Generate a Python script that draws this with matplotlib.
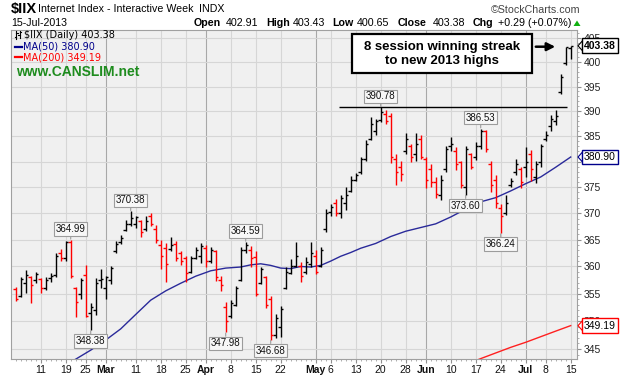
import matplotlib
matplotlib.use('Agg')
import matplotlib.pyplot as plt
import numpy as np
import pandas as pd
from matplotlib.patches import Rectangle, Polygon, FancyArrowPatch
from matplotlib.lines import Line2D
from matplotlib.ticker import FixedLocator, FuncFormatter, NullFormatter

plt.rcParams['font.family'] = ['Liberation Sans', 'DejaVu Sans']

# ---------------- data ----------------
holidays = ['2013-02-18', '2013-03-29', '2013-05-27', '2013-07-04']
dates = [d for d in pd.bdate_range('2013-02-04', '2013-07-15')
         if d.strftime('%Y-%m-%d') not in holidays]

prior_close = 357.0
opens = [355.8, 354.6, 357.0, 358.0, 357.5,
         357.6, 356.0, 357.8, 358.5, 362.5,
         361.6, 364.6, 356.0, 355.0,
         358.5, 351.5, 352.0, 357.5, 356.0,
         357.5, 362.8, 364.5, 366.8, 368.0,
         368.0, 368.5, 367.0, 369.5, 367.0,
         364.0, 363.5, 363.2, 364.2, 362.5,
         361.5, 359.0, 361.5, 362.0,
         363.5, 361.0, 362.8, 357.5, 352.5,
         351.0, 353.0, 357.5, 363.0, 363.0,
         361.8, 357.0, 358.0, 354.0, 347.5,
         349.0, 356.0, 358.8, 360.0, 360.0,
         359.0, 360.5, 362.0, 360.0, 367.0,
         370.2, 372.0, 370.0, 372.0, 374.3,
         376.5, 378.0, 380.5, 384.5, 386.0,
         388.2, 389.5, 389.0, 380.5, 379.0,
         382.0, 383.0, 381.5, 384.5,
         380.5, 378.5, 376.0, 373.5, 378.5,
         383.0, 382.0, 380.0, 375.0, 381.5,
         381.0, 383.0, 386.0, 379.5, 376.5,
         371.0, 370.0, 375.5, 378.0, 378.5,
         379.0, 381.5, 377.0, 380.0,
         384.5, 387.0, 388.0, 393.8, 399.8,
         402.91]
highs = [356.2, 358.0, 359.4, 358.3, 359.0,
         357.8, 358.0, 358.7, 362.6, 363.2,
         364.8, 364.99, 356.2, 357.9,
         360.2, 353.2, 357.9, 359.6, 358.3,
         360.0, 364.8, 365.8, 368.7, 370.38,
         369.4, 368.8, 369.4, 370.0, 367.8,
         364.9, 364.3, 365.6, 364.8, 362.9,
         361.9, 362.0, 363.7, 364.3,
         364.0, 363.7, 363.0, 358.3, 353.5,
         353.8, 356.4, 363.7, 364.59, 363.8,
         362.9, 359.9, 358.3, 354.6, 351.3,
         352.8, 359.9, 361.4, 364.5, 360.8,
         361.7, 364.5, 363.0, 363.6, 370.9,
         371.8, 372.8, 373.5, 375.0, 377.1,
         377.7, 381.0, 384.2, 388.8, 388.4,
         390.78, 390.2, 389.6, 381.5, 380.2,
         385.6, 383.5, 385.6, 385.2,
         381.0, 379.5, 377.0, 377.3, 383.1,
         384.8, 382.8, 380.2, 383.1, 381.7,
         383.8, 386.53, 386.2, 380.2, 377.3,
         371.7, 373.5, 376.8, 380.6, 379.0,
         382.8, 382.2, 380.2, 383.5,
         386.0, 389.2, 390.2, 397.5, 403.2,
         403.43]
lows = [353.7, 354.3, 355.2, 353.2, 357.0,
        355.2, 355.6, 357.1, 358.0, 361.0,
        361.0, 357.8, 350.7, 354.0,
        350.7, 348.38, 351.1, 356.0, 354.0,
        356.8, 362.5, 364.2, 366.6, 367.5,
        367.2, 365.6, 366.6, 367.5, 364.3,
        359.6, 357.1, 362.9, 361.0, 360.3,
        357.1, 358.7, 361.3, 360.7,
        359.9, 360.7, 357.4, 355.5, 347.98,
        350.5, 352.7, 357.4, 362.6, 359.9,
        354.6, 356.8, 352.3, 346.68, 346.9,
        347.2, 355.8, 358.6, 359.9, 357.1,
        358.6, 359.9, 358.6, 359.9, 366.4,
        369.4, 369.4, 369.1, 370.6, 374.0,
        376.2, 377.5, 380.2, 384.2, 385.2,
        387.8, 387.5, 379.7, 375.5, 376.2,
        381.5, 380.0, 380.2, 380.6,
        374.8, 375.0, 373.0, 372.6, 378.0,
        382.0, 378.4, 374.8, 373.60, 378.5,
        380.3, 382.5, 381.9, 374.0, 371.0,
        366.24, 369.6, 375.0, 377.3, 374.8,
        377.0, 376.3, 375.8, 379.0,
        384.0, 386.0, 387.3, 393.5, 399.4,
        400.65]
closes = [354.0, 357.6, 358.5, 356.5, 358.6,
          356.0, 357.5, 358.3, 362.0, 361.5,
          364.5, 358.2, 353.5, 357.5,
          351.0, 352.5, 357.0, 357.6, 358.0,
          359.7, 364.2, 365.3, 368.0, 369.2,
          369.3, 366.5, 368.5, 368.0, 365.0,
          362.0, 360.5, 364.0, 361.5, 361.0,
          358.8, 361.5, 363.0, 363.8,
          361.0, 363.0, 358.0, 356.5, 350.0,
          353.3, 356.0, 363.0, 364.0, 361.5,
          355.0, 359.5, 353.0, 347.5, 350.5,
          352.2, 359.0, 360.0, 362.0, 358.2,
          360.8, 362.5, 359.0, 363.0, 370.0,
          371.2, 370.0, 373.0, 373.5, 376.5,
          377.3, 380.5, 383.5, 387.5, 388.0,
          389.8, 388.0, 381.0, 378.0, 377.5,
          384.5, 381.0, 383.5, 381.0,
          376.5, 376.0, 373.8, 376.5, 382.5,
          383.5, 379.5, 375.5, 382.5, 379.0,
          383.0, 386.0, 382.5, 375.5, 372.0,
          369.5, 372.0, 376.3, 379.5, 376.0,
          380.0, 378.5, 379.5, 383.0,
          385.3, 388.5, 389.0, 397.0, 403.09,
          403.38]

# moving averages (bar number, value)
ma50_bar = [11, 12, 15, 18, 21, 24, 27, 30, 33, 36, 39, 42, 45, 47, 49, 51, 53,
            55, 57, 59, 61, 63, 65, 67, 69, 72, 75, 78, 81, 84, 87, 90, 93, 96,
            99, 102, 105, 108, 111]
ma50_val = [342.7, 343.2, 344.8, 346.6, 348.6, 351.2, 353.8, 355.5, 356.9, 358.2,
            359.2, 359.7, 359.9, 360.3, 360.5, 360.2, 359.7, 359.6, 360.0, 359.9,
            360.2, 361.0, 361.9, 362.6, 363.4, 364.3, 365.6, 366.6, 367.3, 368.0,
            369.3, 370.8, 372.2, 373.0, 374.3, 375.7, 377.0, 378.9, 380.90]
ma200_bar = [91, 93, 96, 99, 102, 105, 108, 111]
ma200_val = [342.6, 343.3, 344.3, 345.3, 346.2, 347.2, 348.2, 349.19]

# callouts: (bar number, 'high' / 'low')
callouts = [(11, 'high'), (23, 'high'), (46, 'high'), (73, 'high'), (93, 'high'),
            (15, 'low'), (42, 'low'), (51, 'low'), (90, 'low'), (97, 'low')]

ytick_vals = [345, 350, 355, 360, 365, 370, 375, 380, 385, 390, 395, 400, 405]
hidden_ytick_labels = [380]   # fully covered by the MA(50) price tag
xtick_dates = ['2013-02-11', '2013-02-19', '2013-02-25', '2013-03-01', '2013-03-11',
               '2013-03-18', '2013-03-25', '2013-04-01', '2013-04-08', '2013-04-15',
               '2013-04-22', '2013-05-01', '2013-05-06', '2013-05-13', '2013-05-20',
               '2013-05-28', '2013-06-03', '2013-06-10', '2013-06-17', '2013-06-24',
               '2013-07-01', '2013-07-08', '2013-07-15']
xtick_labels = ['11', '19', '25', 'Mar', '11', '18', '25', 'Apr', '8', '15', '22',
                'May', '6', '13', '20', '28', 'Jun', '10', '17', '24', 'Jul', '8', '15']
months = ['Mar', 'Apr', 'May', 'Jun', 'Jul']

resistance_level = 390.78

# ---------------- figure ----------------
W, H = 623, 376
fig = plt.figure(figsize=(W / 100, H / 100), dpi=100)
fig.patch.set_facecolor('white')


def fx(x):
    return x / W


def fy(y):
    return 1 - y / H


ax = fig.add_axes([fx(11), fy(358.5), (577 - 11) / W, (358.5 - 29.5) / H])
ax.set_facecolor('#f0f0f0')
ax.set_yscale('log')
ax.set_xlim(-0.94, 112.26)
ax.set_ylim(343.32, 406.78)

n = len(dates)
pos = np.arange(n)
o = np.array(opens); h = np.array(highs); l = np.array(lows); c = np.array(closes)
prev = np.concatenate([[prior_close], c[:-1]])
cols = np.where(c < prev, '#ff0000', '#000000')

# grid
tick_pos = [dates.index(pd.Timestamp(d)) for d in xtick_dates]
for p, lab in zip(tick_pos, xtick_labels):
    ax.axvline(p, color='#a8a8a8' if lab in months else '#d6d6d6', lw=0.8, zorder=0)
for v in ytick_vals:
    ax.axhline(v, color='#d6d6d6', lw=0.8, zorder=0)

# moving averages
ax.plot(ma50_bar, ma50_val, color='#2a2a9a', lw=1.0, zorder=2)
ax.plot(ma200_bar, ma200_val, color='#ff2020', lw=1.0, zorder=2)

# OHLC bars
ax.vlines(pos, l, h, colors=cols, lw=1.0, zorder=3)
ax.hlines(o, pos - 0.45, pos, colors=cols, lw=1.0, zorder=3)
ax.hlines(c, pos, pos + 0.45, colors=cols, lw=1.0, zorder=3)

# resistance line
ax.hlines(resistance_level, 64.7, 110.3, colors='black', lw=1.0, zorder=4)

# callouts
for p, kind in callouts:
    val = highs[p] if kind == 'high' else lows[p]
    off = 11 if kind == 'high' else -11
    ax.annotate(f'{val:.2f}', xy=(p, val), xytext=(0, off), textcoords='offset pixels',
                ha='center', va='center', fontsize=7, color='#111111',
                bbox=dict(boxstyle='square,pad=0.18', fc='#f7f7f7', ec='#9c9c9c', lw=0.8),
                arrowprops=dict(arrowstyle='-', color='#9c9c9c', lw=0.8,
                                shrinkA=0, shrinkB=0.5),
                zorder=6)

# axes / ticks
ax.yaxis.set_major_locator(FixedLocator(ytick_vals))
ax.yaxis.set_minor_locator(FixedLocator(list(range(344, 407))))
ax.yaxis.set_major_formatter(
    FuncFormatter(lambda v, p: '' if round(v) in hidden_ytick_labels else f'{v:.0f}'))
ax.yaxis.set_minor_formatter(NullFormatter())
ax.yaxis.tick_right()
ax.tick_params(axis='y', which='major', length=3, color='#909090', labelsize=7.5,
               pad=2, labelcolor='#222222')
ax.tick_params(axis='y', which='minor', length=1.5, color='#a0a0a0')

ax.set_xticks(tick_pos)
ax.set_xticklabels(xtick_labels)
ax.xaxis.set_minor_locator(FixedLocator(list(pos)))
ax.tick_params(axis='x', which='major', length=3, color='#909090', labelsize=7.5, pad=2,
               labelcolor='#111111')
ax.tick_params(axis='x', which='minor', length=1.5, color='#a0a0a0')
for t in ax.get_xticklabels():
    if t.get_text() in months:
        t.set_fontweight('bold')

for s in ax.spines.values():
    s.set_color('#a0a0a0')
    s.set_linewidth(0.8)

# ---------------- header ----------------
fig.text(fx(11), fy(9.5), '$IIX', fontsize=10.5, fontweight='bold', va='center',
         parse_math=False)
fig.text(fx(38), fy(9.5), 'Internet Index - Interactive Week', fontsize=7.7, va='center')
fig.text(fx(199), fy(9.5), 'INDX', fontsize=7.7, va='center')
fig.text(fx(580), fy(10), '\u00a9StockCharts.com', fontsize=7.7, va='center', ha='right',
         color='#444444')
fig.text(fx(11), fy(23), '15-Jul-2013', fontsize=7.7, va='center')
pieces = [(194, 'Open', True), (226, '402.91', False), (266, 'High', True),
          (293, '403.43', False), (332, 'Low', True), (357, '400.65', False),
          (398, 'Close', True), (433, '403.38', False), (473, 'Chg', True),
          (498, '+0.29 (+0.07%)', False)]
for x, s, b in pieces:
    fig.text(fx(x), fy(23), s, fontsize=7.7, va='center',
             fontweight='bold' if b else 'normal')
fig.add_artist(Polygon([[fx(573.5), fy(26)], [fx(580.5), fy(26)], [fx(577), fy(20.5)]],
                       closed=True, transform=fig.transFigure, fc='#10b010', ec='none'))

# ---------------- legend ----------------
for (x0, yt, yb, yo, yc) in [(16, 31, 39, 37, 33), (19.5, 30.5, 38, 35, 31.5)]:
    fig.add_artist(Line2D([fx(x0), fx(x0)], [fy(yb), fy(yt)], transform=fig.transFigure,
                          color='black', lw=0.8))
    fig.add_artist(Line2D([fx(x0 - 1.5), fx(x0)], [fy(yo), fy(yo)], transform=fig.transFigure,
                          color='black', lw=0.8))
    fig.add_artist(Line2D([fx(x0), fx(x0 + 1.5)], [fy(yc), fy(yc)], transform=fig.transFigure,
                          color='black', lw=0.8))
fig.text(fx(24), fy(35), '$IIX (Daily) 403.38', fontsize=7, va='center',
         family='DejaVu Sans', parse_math=False)
fig.add_artist(Line2D([fx(15), fx(22)], [fy(46.5), fy(46.5)], transform=fig.transFigure,
                      color='#00008b', lw=1.6))
fig.text(fx(23), fy(46.5), 'MA(50) 380.90', fontsize=7, va='center', family='DejaVu Sans',
         color='#00008b')
fig.add_artist(Line2D([fx(15), fx(22)], [fy(57), fy(57)], transform=fig.transFigure,
                      color='#ff0000', lw=1.6))
fig.text(fx(23), fy(57), 'MA(200) 349.19', fontsize=7, va='center', family='DejaVu Sans',
         color='#ff0000')
fig.text(fx(16), fy(72), 'www.CANSLIM.net', fontsize=10, fontweight='bold', va='center',
         color='#1e8c1e')

# ---------------- annotation box & arrow ----------------
fig.add_artist(Rectangle((fx(352), fy(73)), (532 - 352) / W, (73 - 34) / H,
                         transform=fig.transFigure, fc='white', ec='black', lw=1.6,
                         zorder=10))
fig.text(fx(442), fy(54), '8 session winning streak\nto new 2013 highs', ha='center',
         va='center', fontsize=9.5, fontweight='bold',
         family=['Liberation Sans Narrow', 'Liberation Sans'], linespacing=1.15,
         zorder=11)
fig.add_artist(FancyArrowPatch((fx(533), fy(46.7)), (fx(558), fy(46.7)),
                               transform=fig.transFigure, arrowstyle='-|>',
                               mutation_scale=12, lw=1.8, color='black', zorder=10))

# ---------------- price tags on right axis ----------------
def tag(val, ec, bold):
    y = 38 + 1940 * np.log(405 / val)
    fig.text(fx(584), fy(y), f'{val:.2f}', fontsize=7.5, va='center', ha='left',
             fontweight='bold' if bold else 'normal', color='black', zorder=12,
             bbox=dict(boxstyle='square,pad=0.22', fc='white', ec=ec, lw=1.0))
    fig.add_artist(Polygon([[fx(578), fy(y)], [fx(582.5), fy(y - 5)], [fx(582.5), fy(y + 5)]],
                           closed=True, transform=fig.transFigure, fc='white', ec=ec,
                           lw=0.8, zorder=11))


tag(closes[-1], 'black', True)
tag(ma50_val[-1], '#00008b', False)
tag(ma200_val[-1], '#ff0000', False)

fig.savefig('out.png', dpi=100, facecolor='white')
